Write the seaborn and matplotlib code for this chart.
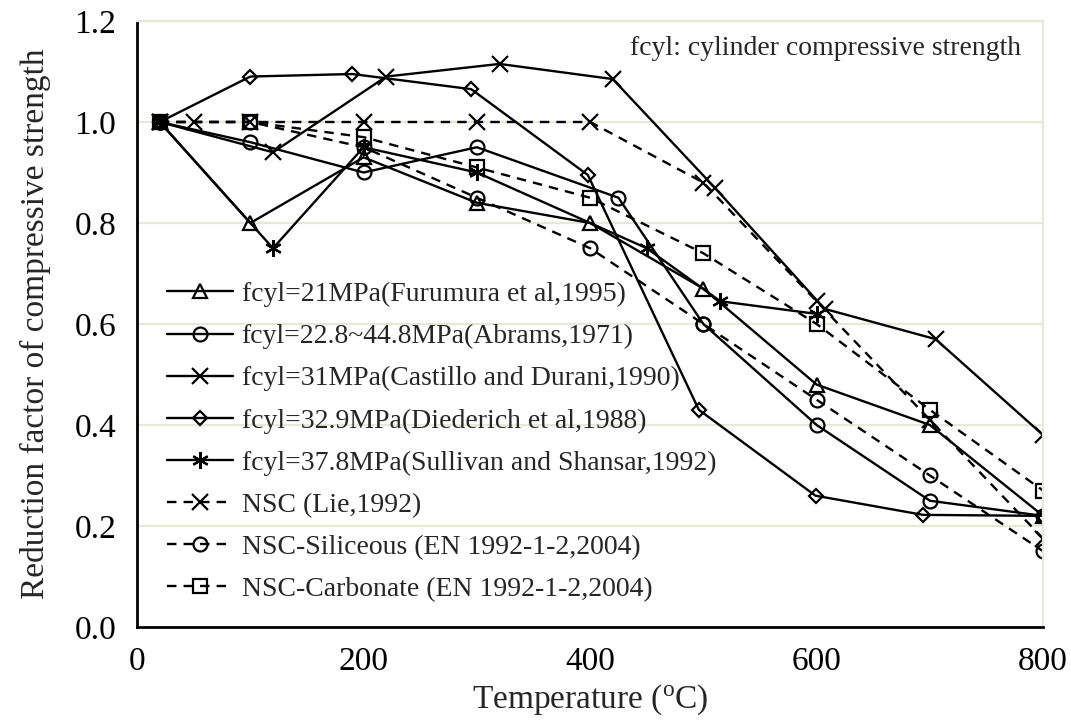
import matplotlib
matplotlib.use("Agg")
import matplotlib.pyplot as plt
import seaborn as sns
import pandas as pd

# ---- data ----
furumura_T = [20, 100, 200, 300, 400, 500, 600, 700, 800]
furumura_R = [1.0, 0.80, 0.93, 0.84, 0.80, 0.67, 0.48, 0.40, 0.22]

abrams_T = [20, 100, 200, 300, 425, 500, 600, 700, 800]
abrams_R = [1.0, 0.96, 0.90, 0.95, 0.85, 0.60, 0.40, 0.25, 0.22]

castillo_T = [20, 120, 220, 320, 420, 510, 607, 705, 800]
castillo_R = [1.0, 0.94, 1.09, 1.115, 1.085, 0.87, 0.63, 0.57, 0.38]

diederich_T = [20, 100, 190, 295, 398, 496, 599, 694, 800]
diederich_R = [1.0, 1.09, 1.095, 1.065, 0.895, 0.43, 0.26, 0.222, 0.22]

sullivan_T = [20, 120, 200, 300, 450, 515, 600]
sullivan_R = [1.0, 0.75, 0.95, 0.90, 0.75, 0.645, 0.62]

lie_T = [20, 50, 100, 200, 300, 400, 500, 600, 700, 800]
lie_R = [1.0, 1.0, 1.0, 1.0, 1.0, 1.0, 0.88, 0.645, 0.41, 0.175]

silic_T = [20, 100, 200, 300, 400, 500, 600, 700, 800]
silic_R = [1.0, 1.0, 0.95, 0.85, 0.75, 0.60, 0.45, 0.30, 0.15]

carb_T = [20, 100, 200, 300, 400, 500, 600, 700, 800]
carb_R = [1.0, 1.0, 0.97, 0.91, 0.85, 0.74, 0.60, 0.43, 0.27]

labels = [
    "fcyl=21MPa(Furumura et al,1995)",
    "fcyl=22.8~44.8MPa(Abrams,1971)",
    "fcyl=31MPa(Castillo and Durani,1990)",
    "fcyl=32.9MPa(Diederich et al,1988)",
    "fcyl=37.8MPa(Sullivan and Shansar,1992)",
    "NSC (Lie,1992)",
    "NSC-Siliceous (EN 1992-1-2,2004)",
    "NSC-Carbonate (EN 1992-1-2,2004)",
]
x_ticks = [0, 200, 400, 600, 800]
y_ticks = [0.0, 0.2, 0.4, 0.6, 0.8, 1.0, 1.2]

# ---- style ----
sns.set_style("white")
plt.rcParams["font.family"] = ["Liberation Serif", "DejaVu Serif"]
plt.rcParams["mathtext.fontset"] = "custom"
plt.rcParams["mathtext.rm"] = "Liberation Serif"
plt.rcParams["mathtext.it"] = "Liberation Serif:italic"

fig = plt.figure(figsize=(10.71, 7.24), dpi=100)
ax = fig.add_axes([0.128, 0.134, 0.846, 0.837])

grid_color = "#E6E9D6"
for y in y_ticks[1:]:
    ax.axhline(y, color=grid_color, lw=1.6, zorder=0)

asterisk = (6, 2, 0)
series = [
    (furumura_T, furumura_R, "^", "-", 10),
    (abrams_T, abrams_R, "o", "-", 10),
    (castillo_T, castillo_R, "x", "-", 11),
    (diederich_T, diederich_R, "D", "-", 7),
    (sullivan_T, sullivan_R, asterisk, "-", 12),
    (lie_T, lie_R, "x", "--", 11),
    (silic_T, silic_R, "o", "--", 10),
    (carb_T, carb_R, "s", "--", 10),
]

for (T, R, mk, ls, ms), lab in zip(series, labels):
    df = pd.DataFrame({"T": T, "R": R})
    sns.lineplot(data=df, x="T", y="R", ax=ax, color="black", lw=1.7,
                 linestyle=ls, marker=mk, markersize=ms,
                 markerfacecolor="none", markeredgecolor="black",
                 markeredgewidth=1.6, estimator=None, sort=False,
                 label=lab, dashes=False)

for l in ax.get_lines():
    if l.get_linestyle() == "--":
        l.set_dashes((4, 3))

ax.set_xlim(0, 800)
ax.set_ylim(0, 1.2)
ax.set_xticks(x_ticks)
ax.set_yticks(y_ticks)
ax.set_yticklabels([f"{v:.1f}" for v in y_ticks])
ax.tick_params(axis="both", direction="in", length=8, width=1.5,
               labelsize=24, colors="black")
ax.tick_params(axis="x", pad=14)
ax.tick_params(axis="y", pad=15)

for s in ["left", "bottom"]:
    ax.spines[s].set_color("black")
    ax.spines[s].set_linewidth(2)
for s in ["top", "right"]:
    ax.spines[s].set_color(grid_color)
    ax.spines[s].set_linewidth(1.6)

ax.set_xlabel(r"Temperature ($^{\mathrm{o}}$C)", fontsize=24, labelpad=4)
ax.set_ylabel("Reduction factor of compressive strength", fontsize=24, labelpad=17)

ax.text(0.975, 0.955, "fcyl: cylinder compressive strength", transform=ax.transAxes,
        ha="right", va="center", fontsize=20)

leg = ax.legend(loc="lower left", bbox_to_anchor=(0.005, 0.0), frameon=False,
                fontsize=20, handlelength=2.4, handletextpad=0.3,
                labelspacing=0.6, borderaxespad=0.5)

fig.savefig("out.png", dpi=100)
